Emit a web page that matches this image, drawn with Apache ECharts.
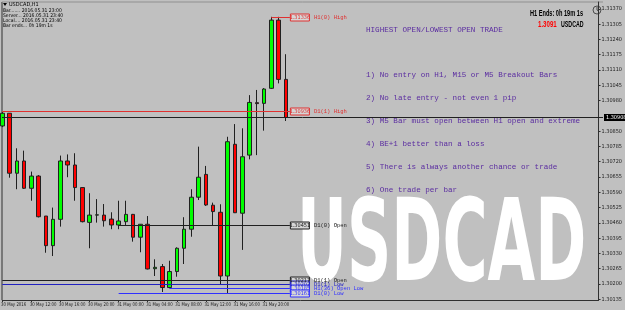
<!DOCTYPE html>
<html><head><meta charset="utf-8">
<script src="https://cdn.jsdelivr.net/npm/echarts@6/dist/echarts.min.js"></script>
<style>html,body{margin:0;padding:0;background:#c0c0c0;overflow:hidden}#c{width:625px;height:310px}</style>
</head><body><div id="c"></div><script>
// ---- data ----
const barTimes = ['30 May 08:00','30 May 09:00','30 May 10:00','30 May 11:00','30 May 12:00','30 May 13:00','30 May 14:00','30 May 15:00',
 '30 May 16:00','30 May 17:00','30 May 18:00','30 May 19:00','30 May 20:00','30 May 21:00','30 May 22:00','30 May 23:00',
 '31 May 00:00','31 May 01:00','31 May 02:00','31 May 03:00','31 May 04:00','31 May 05:00','31 May 06:00','31 May 07:00',
 '31 May 08:00','31 May 09:00','31 May 10:00','31 May 11:00','31 May 12:00','31 May 13:00','31 May 14:00','31 May 15:00',
 '31 May 16:00','31 May 17:00','31 May 18:00','31 May 19:00','31 May 20:00','31 May 21:00','31 May 22:00','31 May 23:00'];
const opens  = [1.30872,1.30926,1.30671,1.30723,1.30607,1.30659,1.30489,1.30363,1.30475,1.30723,1.30706,1.30610,1.30462,1.30493,1.30493,1.30476,
 1.30451,1.30465,1.30496,1.30399,1.30454,1.30265,1.30274,1.30185,1.30253,1.30352,1.30433,1.30569,1.30666,1.30535,1.30505,1.30234,
 1.30794,1.30501,1.30748,1.30971,1.30968,1.31032,1.31322,1.31070];
const closes = [1.30926,1.30671,1.30723,1.30607,1.30659,1.30486,1.30363,1.30475,1.30723,1.30706,1.30610,1.30465,1.30493,1.30494,1.30469,1.30451,
 1.30468,1.30496,1.30399,1.30454,1.30264,1.30271,1.30185,1.30253,1.30352,1.30433,1.30569,1.30654,1.30536,1.30508,1.30234,1.30805,
 1.30503,1.30741,1.30972,1.30967,1.31029,1.31322,1.31070,1.30908];
const highs  = [1.30931,1.30927,1.30777,1.30767,1.30678,1.30663,1.30489,1.30525,1.30746,1.30751,1.30756,1.30612,1.30586,1.30561,1.30540,1.30505,
 1.30554,1.30554,1.30498,1.30455,1.30489,1.30305,1.30285,1.30299,1.30356,1.30484,1.30603,1.30784,1.30702,1.30546,1.30539,1.30826,
 1.30880,1.30862,1.31003,1.31025,1.31033,1.31336,1.31336,1.31177];
const lows   = [1.30867,1.30652,1.30603,1.30604,1.30554,1.30483,1.30333,1.30319,1.30444,1.30654,1.30554,1.30462,1.30352,1.30461,1.30444,1.30433,
 1.30433,1.30451,1.30380,1.30335,1.30262,1.30234,1.30166,1.30182,1.30231,1.30285,1.30401,1.30557,1.30532,1.30447,1.30199,1.30161,
 1.30502,1.30345,1.30730,1.30748,1.30852,1.31029,1.31053,1.30893];
const timeLabelIdx  = [0,4,8,12,16,20,24,28,32,36];
const timeLabelText = ['30 May 2016','30 May 12:00','30 May 16:00','30 May 20:00','31 May 00:00','31 May 04:00','31 May 08:00','31 May 12:00','31 May 16:00','31 May 20:00'];
const priceTicks = [1.31370,1.31305,1.31240,1.31175,1.31110,1.31045,1.30980,1.30850,1.30785,1.30720,1.30655,1.30590,1.30525,1.30460,1.30395,1.30330,1.30265,1.30200,1.30135];
const bidPrice = 1.30908;
// levels: name, value, start bar index
const levelNames  = ['H1(0) High','D1(1) High','D1(0) Open','D1(1) Open','D1(1) Low','H1(36) Open Low','D1(0) Low'];
const levelValues = [1.31336,1.30936,1.30451,1.30217,1.30202,1.30185,1.30161];
const levelStart  = [37,0,16,0,0,23,16];
const levelColors = ['#e03030','#e03030','#202020','#202020','#2020c0','#3030ff','#3030ff'];
const rules = ['1) No entry on H1, M15 or M5 Breakout Bars','2) No late entry - not even 1 pip','3) M5 Bar must open between H1 open and extreme','4) BE+1 better than a loss','5) There is always another chance or trade','6) One trade per bar'];
const infoLines = ['Bar....... 2016.05.31 23:00','Server... 2016.05.31 23:40','Local.... 2016.05.31 23:40','Bar ends... 0h 19m 1s'];

const NSLOTS = 83;
const cats = barTimes.concat(Array.from({length: NSLOTS - barTimes.length}, (_, i) => 'f' + i));
const ohlc = opens.map((o, i) => [o, closes[i], lows[i], highs[i]]);

const chart = echarts.init(document.getElementById('c'), null, {renderer: 'canvas'});
const AX = '#303030';
const smallFont = '"Liberation Sans Narrow", "DejaVu Sans Condensed", "Liberation Sans"';
chart.setOption({
  animation: false,
  backgroundColor: '#c0c0c0',
  grid: {left: 2.3, right: 22.5, top: 2, bottom: 10, containLabel: false, show: false},
  xAxis: {
    type: 'category', data: cats, boundaryGap: false,
    axisLine: {show: true, onZero: false, lineStyle: {color: AX, width: 1}},
    axisTick: {show: true, length: 2, interval: (i) => timeLabelIdx.includes(i), lineStyle: {color: AX}},
    axisLabel: {show: false},
    splitLine: {show: false}
  },
  yAxis: {
    type: 'value', position: 'right', min: 1.30132, max: 1.31399, scale: true,
    axisLine: {show: true, lineStyle: {color: AX, width: 1}},
    axisTick: {show: true, length: 2, customValues: priceTicks, lineStyle: {color: AX}},
    axisLabel: {show: true, customValues: priceTicks, margin: 3, formatter: (v) => v.toFixed(5),
      fontFamily: smallFont, fontSize: 5.5, color: '#202020'},
    splitLine: {show: false}
  },
  series: [{
    type: 'candlestick', data: ohlc, barWidth: 4, clip: true,
    itemStyle: {color: '#00ff00', color0: '#ff0000', borderColor: '#202020', borderColor0: '#202020', borderWidth: 1}
  }]
});

const px = (i) => chart.convertToPixel({xAxisIndex: 0}, i);
const py = (v) => chart.convertToPixel({yAxisIndex: 0}, v);
const g = [];
// frame
g.push({type: 'line', shape: {x1: 2, y1: 2, x2: 2, y2: 300}, style: {stroke: AX, lineWidth: 1}});
g.push({type: 'line', shape: {x1: 2, y1: 2, x2: 603, y2: 2}, style: {stroke: '#909090', lineWidth: 1}});
// time labels (positioned by the category axis)
timeLabelIdx.forEach((idx, k) => g.push({type: 'text', x: Math.max(1, px(idx) - 1.5), y: 305, scaleX: 0.86,
  style: {text: timeLabelText[k], fill: '#202020', font: '5px ' + smallFont, align: 'left', verticalAlign: 'middle'}, z: 10}));
// level lines
const lineEnd = px(barTimes.length - 1) + 4;
levelValues.forEach((v, k) => {
  const y = Math.round(py(v)) + 0.5;
  const x0 = Math.max(2, px(levelStart[k]));
  g.push({type: 'line', shape: {x1: x0, y1: y, x2: lineEnd, y2: y}, style: {stroke: levelColors[k], lineWidth: 1}, z: 5});
  g.push({type: 'rect', shape: {x: lineEnd + 0.5, y: y - 3.5, width: 19, height: 7}, style: {fill: '#d6d6d6', stroke: levelColors[k], lineWidth: 1}, z: 6});
  g.push({type: 'text', x: lineEnd + 10, y: y, style: {text: v.toFixed(5), fill: levelColors[k], font: '5.5px ' + smallFont, align: 'center', verticalAlign: 'middle'}, z: 7});
  g.push({type: 'text', x: lineEnd + 24, y: y, style: {text: levelNames[k], fill: levelColors[k], font: '5.5px "Liberation Mono"', align: 'left', verticalAlign: 'middle'}, z: 7});
});
// bid line + box
const by = Math.round(py(bidPrice)) + 0.5;
g.push({type: 'line', shape: {x1: 2, y1: by, x2: 603, y2: by}, style: {stroke: '#202020', lineWidth: 1}, z: 5});
g.push({type: 'rect', shape: {x: 604, y: by - 3.5, width: 21, height: 7}, style: {fill: '#000000'}, z: 8});
g.push({type: 'text', x: 606, y: by, style: {text: bidPrice.toFixed(5), fill: '#ffffff', font: '5.5px ' + smallFont, verticalAlign: 'middle'}, z: 9});
// big symbol
g.push({type: 'text', x: 297, y: 250, scaleX: 0.54, scaleY: 1, style: {text: 'USDCAD', fill: '#ffffff', font: 'bold 114px "DejaVu Sans"', verticalAlign: 'middle', align: 'left'}, z: 1});
// rules text
g.push({type: 'text', x: 366, y: 30, style: {text: 'HIGHEST OPEN/LOWEST OPEN TRADE', fill: '#5a2ca0', font: '7.6px "Liberation Mono"', verticalAlign: 'middle'}, z: 10});
rules.forEach((t, k) => g.push({type: 'text', x: 366, y: 75 + k * 23, style: {text: t, fill: '#5a2ca0', font: '7.6px "Liberation Mono"', verticalAlign: 'middle'}, z: 10}));
// top-right info
const bold = 'bold 8.5px "Liberation Sans"';
g.push({type: 'text', x: 530, y: 14, scaleX: 0.66, style: {text: 'H1 Ends: 0h 19m 1s', fill: '#000000', font: bold, align: 'left', verticalAlign: 'middle'}, z: 10});
g.push({type: 'text', x: 538, y: 25, scaleX: 0.72, style: {text: bidPrice.toFixed(4), fill: '#ff0000', font: bold, align: 'left', verticalAlign: 'middle'}, z: 10});
g.push({type: 'text', x: 561, y: 25, scaleX: 0.62, style: {text: 'USDCAD', fill: '#000000', font: bold, align: 'left', verticalAlign: 'middle'}, z: 10});
g.push({type: 'circle', shape: {cx: 597, cy: 10, r: 4}, style: {fill: 'none', stroke: '#303030', lineWidth: 0.8}, z: 10});
g.push({type: 'polyline', shape: {points: [[597, 7], [597, 10], [599, 11.5]]}, style: {stroke: '#303030', lineWidth: 0.8, fill: 'none'}, z: 10});
// top-left info
g.push({type: 'polygon', shape: {points: [[3, 3], [7, 3], [5, 6]]}, style: {fill: '#000'}, z: 10});
g.push({type: 'text', x: 9, y: 5, style: {text: 'USDCAD,H1', fill: '#000', font: '5.5px ' + smallFont, verticalAlign: 'middle'}, z: 10});
infoLines.forEach((t, k) => g.push({type: 'text', x: 3, y: 11 + k * 4.9, style: {text: t, fill: '#000', font: '5px ' + smallFont, verticalAlign: 'middle'}, z: 10}));
chart.setOption({graphic: {elements: g}});
</script></body></html>
